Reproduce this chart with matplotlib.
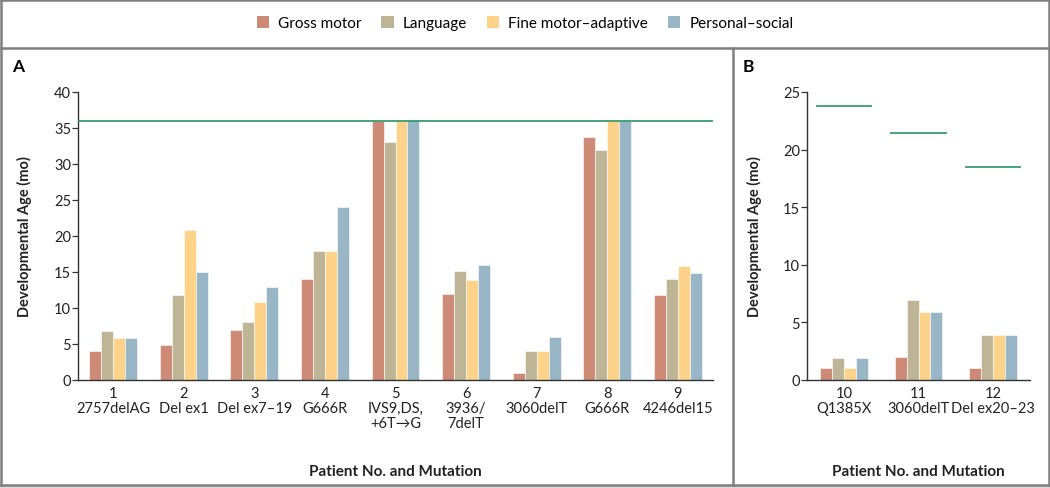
import numpy as np
import matplotlib
matplotlib.use("Agg")
import matplotlib.pyplot as plt
from matplotlib.lines import Line2D
from matplotlib.patches import Rectangle, Patch

plt.rcParams['font.family'] = ['Lato', 'DejaVu Sans']

series = ['Gross motor', 'Language', 'Fine motor\u2013adaptive', 'Personal\u2013social']
colors = ['#cc8a77', '#bdb596', '#fdd38a', '#99b6c7']

# panel A: patients 1-9
patients_a = ['1\n2757delAG', '2\nDel ex1', '3\nDel ex7\u201319', '4\nG666R',
              '5\nIVS9,DS,\n+6T\u2192G', '6\n3936/\n7delT', '7\n3060delT',
              '8\nG666R', '9\n4246del15']
gross_a = [4.0, 4.9, 6.9, 14.0, 36.0, 11.9, 1.0, 33.8, 11.85]
lang_a = [6.8, 11.85, 8.0, 17.95, 33.0, 15.1, 4.0, 31.9, 14.0]
fine_a = [5.8, 20.9, 10.9, 17.85, 36.0, 13.9, 4.0, 36.0, 15.8]
pers_a = [5.8, 14.95, 12.9, 24.0, 36.1, 16.0, 6.0, 36.0, 14.85]
ref_a = 36

# panel B: patients 10-12
patients_b = ['10\nQ1385X', '11\n3060delT', '12\nDel ex20\u201323']
gross_b = [1.0, 2.0, 1.0]
lang_b = [1.95, 6.97, 3.94]
fine_b = [1.0, 5.93, 3.94]
pers_b = [1.95, 5.93, 3.94]
ref_b = [23.76, 21.4, 18.5]

W, H = 1050, 489
fig = plt.figure(figsize=(W / 100, H / 100), dpi=100)

def px(x0, y0, x1, y1):
    return [x0 / W, 1 - y1 / H, (x1 - x0) / W, (y1 - y0) / H]

axA = fig.add_axes(px(78, 93, 713, 381))
axB = fig.add_axes(px(807, 93, 1030, 381))

green = '#2a9561'
spine_c = '#333333'

def draw(ax, labels, data, width):
    x = np.arange(1, len(labels) + 1)
    for k, vals in enumerate(data):
        ax.bar(x + (k - 1.5) * width, vals, width, color=colors[k],
               edgecolor='white', linewidth=0.4, zorder=2)
    ax.set_xticks(x)
    ax.set_xticklabels(labels, fontsize=10.5, linespacing=1.1, color='#222222')
    ax.set_xlim(0.5, len(labels) + 0.5)
    for s in ['top', 'right']:
        ax.spines[s].set_visible(False)
    for s in ['left', 'bottom']:
        ax.spines[s].set_color(spine_c)
        ax.spines[s].set_linewidth(1.0)
    ax.tick_params(axis='x', length=0, pad=4)
    ax.tick_params(axis='y', length=4, width=0.9, color=spine_c, labelsize=10.5,
                   labelcolor='#222222', pad=1)
    ax.set_ylabel('Developmental Age (mo)', fontsize=10.5, fontweight='bold',
                  color='#222222')
    ax.set_xlabel('Patient No. and Mutation', fontsize=11, fontweight='bold',
                  color='#222222')
    return x

draw(axA, patients_a, [gross_a, lang_a, fine_a, pers_a], 0.17)
axA.set_ylim(0, 40)
axA.set_yticks(range(0, 41, 5))
axA.axhline(ref_a, color=green, lw=1.2, zorder=3)
axA.yaxis.set_label_coords(-0.072, 0.5)

xb = draw(axB, patients_b, [gross_b, lang_b, fine_b, pers_b], 0.16)
axB.set_ylim(0, 25)
axB.set_yticks(range(0, 26, 5))
axB.hlines(ref_b, xb - 0.38, xb + 0.38, color=green, lw=1.2, zorder=3)
axB.yaxis.set_label_coords(-0.2, 0.5)

for ax in (axA, axB):
    ax.xaxis.set_label_coords(0.5, -0.29)

fig.text(12 / W, 1 - 67 / H, 'A', fontsize=12.5, fontweight='bold',
         va='center', ha='left')
fig.text(743 / W, 1 - 67 / H, 'B', fontsize=12.5, fontweight='bold',
         va='center', ha='left')

handles = [Patch(facecolor=c, edgecolor='none') for c in colors]
fig.legend(handles, series, loc='center', bbox_to_anchor=(0.5, 1 - 24 / H), ncol=4,
           frameon=False, fontsize=11, handlelength=0.8, handleheight=0.8,
           handletextpad=0.6, columnspacing=1.3)

# frame
fc = '#7f7f7f'
def fline(x0, y0, x1, y1, lw=1.8):
    fig.add_artist(Line2D([x0 / W, x1 / W], [1 - y0 / H, 1 - y1 / H], color=fc, lw=lw))

fline(1, 1, 1049, 1)
fline(1, 1, 1, 486)
fline(1049, 1, 1049, 486)
fline(1, 48.5, 1049, 48.5)
fline(733, 48.5, 733, 486)
fline(1, 486, 1049, 486)
fig.add_artist(Rectangle((0, 0), 1, 3 / H, transform=fig.transFigure,
                         color='#d9d9d9', zorder=-1))

fig.savefig('out.png', dpi=100)
